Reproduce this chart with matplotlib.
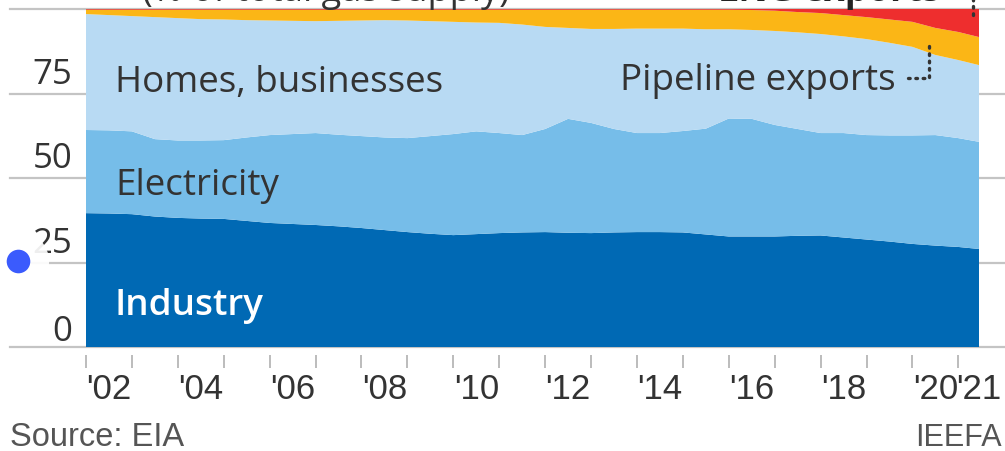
import numpy as np
import matplotlib.pyplot as plt
from matplotlib.transforms import blended_transform_factory
from matplotlib.lines import Line2D

# half-year points, last one is mid 2021
years = [2002.0, 2002.5, 2003.0, 2003.5, 2004.0, 2004.5, 2005.0, 2005.5, 2006.0, 2006.5,
         2007.0, 2007.5, 2008.0, 2008.5, 2009.0, 2009.5, 2010.0, 2010.5, 2011.0, 2011.5,
         2012.0, 2012.5, 2013.0, 2013.5, 2014.0, 2014.5, 2015.0, 2015.5, 2016.0, 2016.5,
         2017.0, 2017.5, 2018.0, 2018.5, 2019.0, 2019.5, 2020.0, 2020.5, 2021.0, 2021.45]

# upper edge of each band (cumulative % of supply)
industry_top = [39.6, 39.5, 39.3, 38.6, 38.2, 38.0, 37.9, 37.3, 36.7, 36.4,
                36.1, 35.7, 35.2, 34.6, 34.0, 33.5, 33.1, 33.4, 33.7, 33.9,
                34.0, 33.8, 33.7, 33.9, 34.0, 34.0, 33.9, 33.3, 32.7, 32.7,
                32.7, 32.9, 33.0, 32.4, 31.8, 31.2, 30.5, 30.0, 29.6, 29.0]
electricity_top = [64.2, 64.1, 63.8, 61.5, 61.1, 61.1, 61.2, 62.0, 62.7, 63.0,
                   63.3, 62.8, 62.4, 62.0, 61.8, 62.4, 63.0, 63.8, 63.3, 62.7,
                   64.5, 67.5, 66.3, 64.5, 63.3, 63.3, 63.9, 64.6, 67.6, 67.5,
                   65.7, 64.5, 63.3, 63.3, 62.7, 62.6, 62.6, 62.7, 61.8, 60.7]
homes_top = [98.5, 98.2, 97.9, 97.6, 97.3, 97.0, 96.9, 96.7, 96.6, 96.5,
             96.4, 96.5, 96.6, 96.7, 96.6, 96.4, 96.2, 96.0, 95.9, 95.4,
             94.7, 94.4, 94.1, 94.1, 94.2, 94.2, 94.2, 94.0, 94.0, 93.8,
             93.5, 93.1, 92.6, 91.9, 91.1, 90.0, 88.8, 86.4, 84.9, 83.4]
pipeline_top = [99.8, 99.8, 99.8, 99.8, 99.8, 99.8, 99.8, 99.8, 99.8, 99.8,
                99.8, 99.8, 99.8, 99.8, 99.8, 99.8, 99.8, 99.8, 99.8, 99.8,
                99.8, 99.8, 99.8, 99.8, 99.8, 99.8, 99.8, 99.8, 99.8, 99.7,
                99.5, 99.1, 98.8, 98.2, 97.6, 96.9, 96.2, 94.4, 93.2, 91.7]
lng_top = [100.0] * len(years)

labels = ["Industry", "Electricity", "Homes, businesses", "Pipeline exports", "LNG exports"]
colors = ["#0069b4", "#76bde9", "#b8daf3", "#fbb616", "#ee2e2e"]
tick_years = list(range(2002, 2022))

tops = np.array([industry_top, electricity_top, homes_top, pipeline_top, lng_top])
shares = np.diff(np.vstack([np.zeros(len(years)), tops]), axis=0)

W, H = 1005, 452
LABEL_FONT = "Open Sans"
NARROW = ["Liberation Sans", "DejaVu Sans"]

fig = plt.figure(figsize=(W / 100, H / 100), dpi=100)
ax = fig.add_axes([86 / W, 1 - 348 / H, (979 - 86) / W, (348 - 10) / H])
ax.patch.set_visible(False)

ax.stackplot(years, shares, colors=colors, labels=labels, zorder=2, linewidth=0)
ax.set_xlim(2002, 2021.45)
ax.set_ylim(0, 100)

# gridlines run across the whole figure
tr = blended_transform_factory(fig.transFigure, ax.transData)
for v in [0, 25, 50, 75, 100]:
    ax.plot([10 / W, 1], [v, v], color="#c4c4c4", lw=1.6, transform=tr, clip_on=False, zorder=0)
    if v < 100:
        ax.text(72 / W, v + (2 if v == 0 else 3.2), str(v), transform=tr, ha="right", va="baseline",
                fontsize=25, family=LABEL_FONT, color="#333333")

for s in ax.spines.values():
    s.set_visible(False)
ax.spines["bottom"].set_position(("outward", 6))
ax.set_yticks([])
ax.set_xticks(tick_years)
ax.set_xticklabels([])
ax.tick_params(axis="x", which="major", length=9, width=1.2, color="#b0b0b0")
minor_pos = [y + 0.5 for y in range(2002, 2021)] + [2021.44]
minor_lab = ["'%02d" % (y % 100) if y % 2 == 0 else "" for y in range(2002, 2021)] + ["'21"]
ax.set_xticks(minor_pos, minor=True)
ax.set_xticklabels(minor_lab, minor=True, fontsize=25, family=NARROW, color="#333333")
ax.tick_params(axis="x", which="minor", length=0, pad=12)

# series labels
ax.text(2002.63, 75.7, "Homes, businesses", fontsize=26.5, family=LABEL_FONT, color="#333333")
ax.text(2002.63, 45.3, "Electricity", fontsize=26.5, family=LABEL_FONT, color="#333333")
ax.text(2002.63, 9.8, "Industry", fontsize=26.5, family=LABEL_FONT, fontweight="semibold", color="white")
ax.text(2013.63, 76.3, "Pipeline exports", fontsize=26.5, family=LABEL_FONT, color="#333333")

# dotted leaders
ax.plot([2019.9, 2020.37, 2020.37], [79.6, 79.6, 90.2], color="#333333", lw=2.4,
        ls=(0, (0.5, 1.7)), dash_capstyle="round", zorder=4)
ax.plot([2021.32, 2021.32], [98.2, 103.5], color="#333333", lw=2.4,
        ls=(0, (0.5, 1.7)), dash_capstyle="round", zorder=4, clip_on=False)

# clipped headings at the very top
fig.text(510 / W, 1 - 1 / H, "(% of total gas supply)", ha="right", va="baseline",
         fontsize=26, family=LABEL_FONT, color="#333333")
fig.text(718 / W, 1 - 1 / H, "LNG exports", ha="left", va="baseline",
         fontsize=26, family=LABEL_FONT, fontweight="bold", color="#222222")

fig.text(10 / W, 1 - 446 / H, "Source: EIA", fontsize=23.5, family=NARROW, color="#555555")
fig.text(1002 / W, 1 - 446 / H, "IEEFA", fontsize=22, family=NARROW, color="#555555", ha="right")

# the blue dot sitting over the chart
fig.add_artist(Line2D([18 / W], [1 - 262 / H], transform=fig.transFigure, marker="o", markersize=44,
                      markerfacecolor="white", markeredgecolor="none", alpha=0.92, zorder=5))
fig.add_artist(Line2D([18 / W], [1 - 262 / H], transform=fig.transFigure, marker="o", markersize=17,
                      markerfacecolor="#3b5bfd", markeredgecolor="none", zorder=6))

fig.savefig("out.png", dpi=100)
